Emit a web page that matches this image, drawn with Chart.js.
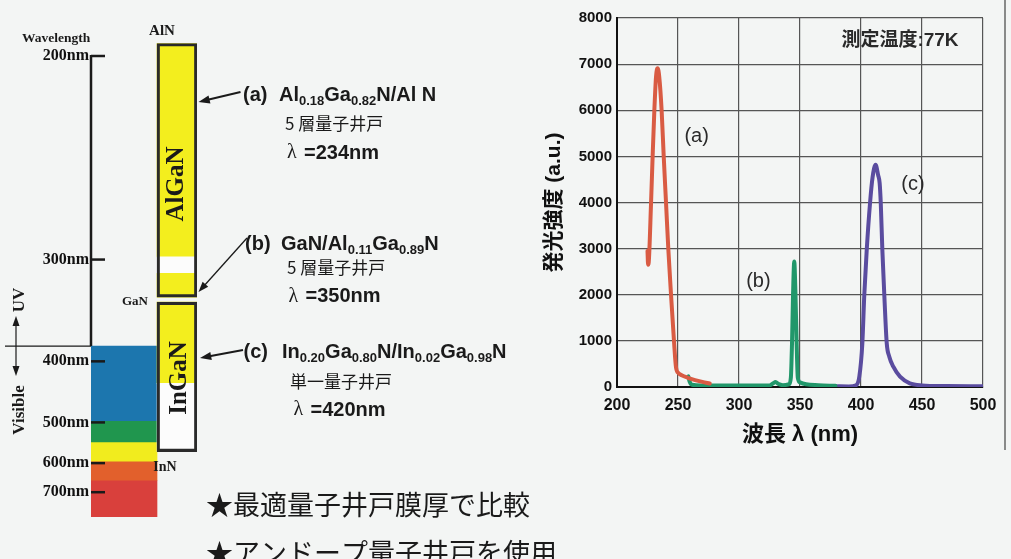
<!DOCTYPE html>
<html>
<head>
<meta charset="utf-8">
<script src="https://cdn.jsdelivr.net/npm/chart.js@4.4.1/dist/chart.umd.min.js"></script>
<style>
html, body { margin: 0; padding: 0; background: #f3f5f4; overflow: hidden; }
#left { position: absolute; left: 0; top: 0; width: 590px; height: 559px; }
#right { position: absolute; left: 540px; top: 0; width: 471px; height: 559px; }
</style>
</head>
<body>
<canvas id="left" width="590" height="559"></canvas>
<canvas id="right" width="471" height="559"></canvas>
<script>
// ---- left diagram: wavelength scale (drawn on an energy axis, E = hc / lambda)
const HC = 1240;
const TICK_NM = [200, 300, 400, 500, 600, 700];
const BAND_NM = [381, 498, 545, 596, 657, 814];      // visible colour blocks
const ALGAN_NM = [196, 298, 310.5, 330.5];           // AlN .. GaN box
const INGAN_NM = [335, 431, 568];                    // GaN .. InN box

// ---- right chart: PL spectra at 77K
const A_NM  = [225.0, 225.5, 226.0, 227.9, 229.2, 230.6, 232.0, 233.3, 234.6, 236.6, 238.3, 240.2, 242.1, 244.3, 246.7, 248.4, 250.5, 253, 258, 264, 270, 276];
const A_INT = [2950, 2650, 2700, 3985, 4996, 5987, 6731, 6913, 6731, 5987, 4996, 3985, 2972, 1995, 1000, 420, 300, 255, 200, 150, 110, 75];
const B_NM  = [258.5, 259.5, 261.5, 270, 290, 310, 325, 328, 330, 332, 336, 341, 342.5, 343.5, 344.3, 345.3, 346.3, 347.2, 348.2, 350, 355, 365, 379];
const B_INT = [230, 120, 50, 35, 30, 30, 35, 80, 110, 70, 40, 60, 200, 1000, 2000, 2720, 2000, 1000, 200, 100, 60, 40, 25];
const C_NM  = [379, 390, 396, 398.6, 401.1, 402.7, 404.7, 407.4, 409.5, 412, 414, 415.3, 416.2, 417.5, 419.1, 421.1, 423.2, 426.5, 432, 440, 450, 470, 500];
const C_INT = [15, 12, 40, 223, 948, 1996, 2972, 3985, 4550, 4816, 4600, 4418, 3985, 2972, 1996, 948, 657, 440, 223, 80, 35, 20, 15];
const X_TICKS = [200, 250, 300, 350, 400, 450, 500];

const ev = nm => HC / nm;
const seg = (edges, x) => edges.slice(1).map((nm, i) => ({ x: x, y: [ev(edges[i]), ev(nm)] }));
const pts = (xs, ys) => xs.map((x, i) => ({ x: x, y: ys[i] }));

const SERIF = '"Liberation Serif", "Times New Roman", serif';
const SANS = '"Liberation Sans", Arial, "Noto Sans CJK JP", sans-serif';
const CJK = '"Noto Sans CJK JP", sans-serif';
const YELLOW = '#f3ee1e';
const SPEC_X = 33, ALLOY_X = 86;

function rotText(ctx, t, x, y, font, color) {
  ctx.save();
  ctx.translate(x, y);
  ctx.rotate(-Math.PI / 2);
  ctx.font = font;
  ctx.fillStyle = color || '#1a1a1a';
  ctx.textAlign = 'center';
  ctx.textBaseline = 'middle';
  ctx.fillText(t, 0, 0);
  ctx.restore();
}

function arrow(ctx, x1, y1, x2, y2, w, head) {
  const a = Math.atan2(y2 - y1, x2 - x1);
  ctx.strokeStyle = '#1a1a1a';
  ctx.fillStyle = '#1a1a1a';
  ctx.lineWidth = w;
  ctx.beginPath();
  ctx.moveTo(x1, y1);
  ctx.lineTo(x2 - Math.cos(a) * head * 0.8, y2 - Math.sin(a) * head * 0.8);
  ctx.stroke();
  ctx.beginPath();
  ctx.moveTo(x2, y2);
  ctx.lineTo(x2 - Math.cos(a - 0.35) * head, y2 - Math.sin(a - 0.35) * head);
  ctx.lineTo(x2 - Math.cos(a + 0.35) * head, y2 - Math.sin(a + 0.35) * head);
  ctx.closePath();
  ctx.fill();
}

// formula with subscripts: parts starting with '_' are subscripts
function formula(ctx, x, y, parts, size) {
  ctx.textAlign = 'left';
  ctx.textBaseline = 'alphabetic';
  ctx.fillStyle = '#1a1a1a';
  for (const p of parts) {
    const sub = p[0] === '_';
    const t = sub ? p.slice(1) : p;
    ctx.font = 'bold ' + (sub ? Math.round(size * 0.64) : size) + 'px ' + SANS;
    ctx.fillText(t, x, sub ? y + size * 0.22 : y);
    x += ctx.measureText(t).width;
  }
}

function lambdaLine(ctx, x, y, nm) {
  ctx.textBaseline = 'middle';
  ctx.textAlign = 'left';
  ctx.fillStyle = '#1a1a1a';
  ctx.font = '20px ' + SERIF;
  ctx.fillText('λ', x, y);
  ctx.font = 'bold 20px ' + SANS;
  ctx.fillText('=' + nm + 'nm', x + 17, y);
}

const leftDeco = {
  id: 'leftDeco',
  afterDraw(chart) {
    const ctx = chart.ctx;
    const ys = chart.scales.y;
    const x0 = chart.chartArea.left;
    const yTop = ys.getPixelForValue(ev(TICK_NM[0]));
    const yVis = ys.getPixelForValue(ev(BAND_NM[0]));
    ctx.save();
    ctx.strokeStyle = '#1a1a1a';
    ctx.lineWidth = 2.5;
    ctx.beginPath();
    ctx.moveTo(x0, yTop - 1);
    ctx.lineTo(x0, yVis);
    ctx.stroke();
    TICK_NM.forEach(nm => {
      const y = ys.getPixelForValue(ev(nm));
      ctx.beginPath();
      ctx.moveTo(x0, y);
      ctx.lineTo(x0 + 14, y);
      ctx.stroke();
    });
    // UV / visible boundary
    ctx.lineWidth = 1.2;
    ctx.beginPath();
    ctx.moveTo(5, yVis);
    ctx.lineTo(x0, yVis);
    ctx.stroke();
    // double arrow
    ctx.lineWidth = 1.2;
    ctx.beginPath();
    ctx.moveTo(16, yVis - 22);
    ctx.lineTo(16, yVis + 22);
    ctx.stroke();
    ctx.fillStyle = '#1a1a1a';
    ctx.beginPath();
    ctx.moveTo(16, yVis - 30); ctx.lineTo(12.5, yVis - 20); ctx.lineTo(19.5, yVis - 20); ctx.closePath(); ctx.fill();
    ctx.beginPath();
    ctx.moveTo(16, yVis + 30); ctx.lineTo(12.5, yVis + 20); ctx.lineTo(19.5, yVis + 20); ctx.closePath(); ctx.fill();

    ctx.fillStyle = '#1a1a1a';
    ctx.textAlign = 'left';
    ctx.textBaseline = 'middle';
    ctx.font = 'bold 13.5px ' + SERIF;
    ctx.fillText('Wavelength', 22, 39);
    ctx.textAlign = 'center';
    ctx.font = 'bold 15px ' + SERIF;
    ctx.fillText('AlN', 162, 31);
    ctx.font = 'bold 13px ' + SERIF;
    ctx.fillText('GaN', 135, 302);
    ctx.font = 'bold 14px ' + SERIF;
    ctx.fillText('InN', 165, 467);
    rotText(ctx, 'AlGaN', 177, 184, 'bold 25px ' + SERIF);
    rotText(ctx, 'InGaN', 180, 378, 'bold 25px ' + SERIF);
    rotText(ctx, 'UV', 20, 300, 'bold 17px ' + SERIF);
    rotText(ctx, 'Visible', 20, 410, 'bold 17px ' + SERIF);

    // annotations (a) (b) (c)
    arrow(ctx, 240.5, 92, 198.5, 102, 2, 12);
    arrow(ctx, 247, 238, 198.5, 292, 1.3, 11);
    arrow(ctx, 243, 350, 200, 358, 2, 12);

    ctx.textAlign = 'left';
    ctx.textBaseline = 'alphabetic';
    ctx.font = 'bold 20px ' + SANS;
    ctx.fillText('(a)', 243, 100.5);
    formula(ctx, 279, 100.5, ['Al', '_0.18', 'Ga', '_0.82', 'N/Al N'], 20);
    ctx.font = 'bold 20px ' + SANS;
    ctx.fillText('(b)', 245, 250);
    formula(ctx, 281, 250, ['GaN/Al', '_0.11', 'Ga', '_0.89', 'N'], 20);
    ctx.font = 'bold 20px ' + SANS;
    ctx.fillText('(c)', 243.5, 357.5);
    formula(ctx, 282, 357.5, ['In', '_0.20', 'Ga', '_0.80', 'N/In', '_0.02', 'Ga', '_0.98', 'N'], 20);

    ctx.textBaseline = 'middle';
    ctx.font = '17px ' + CJK;
    ctx.fillText('5 層量子井戸', 285, 124);
    ctx.fillText('5 層量子井戸', 287, 268);
    ctx.fillText('単一量子井戸', 290, 381.5);
    lambdaLine(ctx, 287, 153, 234);
    lambdaLine(ctx, 288.5, 296.5, 350);
    lambdaLine(ctx, 293.5, 410, 420);

    ctx.font = '27px ' + CJK;
    ctx.fillText('★最適量子井戸膜厚で比較', 206, 505);
    ctx.fillText('★アンドープ量子井戸を使用', 206, 553);
    ctx.restore();
  }
};

new Chart(document.getElementById('left'), {
  type: 'bar',
  data: {
    datasets: [
      { label: 'outline', grouped: false, barThickness: 40, borderSkipped: false,
        data: [{ x: ALLOY_X, y: [ev(ALGAN_NM[0]), ev(ALGAN_NM[ALGAN_NM.length - 1])] },
               { x: ALLOY_X, y: [ev(INGAN_NM[0]), ev(INGAN_NM[INGAN_NM.length - 1])] }],
        backgroundColor: 'rgba(0,0,0,0)', borderColor: '#2a2a2a', borderWidth: 2.5 },
      { label: 'AlGaN', grouped: false, barThickness: 40, data: seg(ALGAN_NM, ALLOY_X),
        backgroundColor: [YELLOW, '#fcfcfc', YELLOW] },
      { label: 'InGaN', grouped: false, barThickness: 40, data: seg(INGAN_NM, ALLOY_X),
        backgroundColor: [YELLOW, '#fcfcfc'] },
      { label: 'visible', grouped: false, barThickness: 66, data: seg(BAND_NM, SPEC_X),
        backgroundColor: ['#1c76ae', '#20964e', '#f1ec1e', '#e2602c', '#d9403c'] }
    ]
  },
  options: {
    responsive: false,
    animation: false,
    devicePixelRatio: 1,
    layout: { padding: { left: 0, right: 393, top: 40, bottom: 39 } },
    plugins: { legend: { display: false }, tooltip: { enabled: false } },
    scales: {
      x: { type: 'linear', display: false, min: 0, max: 106, offset: false },
      y: {
        type: 'linear',
        min: 1.4893,
        max: 6.3624,
        grid: { display: false, drawTicks: false },
        border: { display: false },
        afterBuildTicks: s => { s.ticks = TICK_NM.map(nm => ({ value: ev(nm) })); },
        afterFit: s => { s.width = 91; },
        ticks: {
          callback: v => Math.round(HC / v) + 'nm',
          color: '#111',
          padding: 2,
          font: { family: SERIF, weight: 'bold', size: 16 }
        }
      }
    }
  },
  plugins: [leftDeco]
});

const rightDeco = {
  id: 'rightDeco',
  afterDraw(chart) {
    const ctx = chart.ctx;
    const xs = chart.scales.x, ys = chart.scales.y;
    ctx.save();
    ctx.fillStyle = '#2a2a2a';
    ctx.textAlign = 'center';
    ctx.textBaseline = 'middle';
    ctx.font = 'bold 19px ' + SANS;
    ctx.fillText('測定温度:77K', 360, 41);
    ctx.font = '20px ' + SANS;
    ctx.fillText('(a)', xs.getPixelForValue(265.3), ys.getPixelForValue(5430));
    ctx.fillText('(b)', xs.getPixelForValue(315.9), ys.getPixelForValue(2283));
    ctx.fillText('(c)', xs.getPixelForValue(442.6), ys.getPixelForValue(4382));
    // page edge of the scanned figure
    ctx.strokeStyle = '#666';
    ctx.lineWidth = 1.5;
    ctx.beginPath();
    ctx.moveTo(465, 0);
    ctx.lineTo(465, 450);
    ctx.stroke();
    ctx.restore();
  }
};

new Chart(document.getElementById('right'), {
  type: 'line',
  data: {
    datasets: [
      { label: '(a)', data: pts(A_NM, A_INT), borderColor: '#d95b43' },
      { label: '(b)', data: pts(B_NM, B_INT), borderColor: '#21976a' },
      { label: '(c)', data: pts(C_NM, C_INT), borderColor: '#5a4c9f' }
    ]
  },
  options: {
    responsive: false,
    animation: false,
    devicePixelRatio: 1,
    layout: { padding: { left: 0, right: 28, top: 18, bottom: 100 } },
    elements: {
      point: { radius: 0 },
      line: { borderWidth: 4, cubicInterpolationMode: 'monotone', borderCapStyle: 'round', borderJoinStyle: 'round', fill: false }
    },
    plugins: { legend: { display: false }, tooltip: { enabled: false } },
    scales: {
      x: {
        type: 'linear', min: 200, max: 500,
        afterBuildTicks: s => { s.ticks = X_TICKS.map(v => ({ value: v })); },
        afterFit: s => { s.height = 72; },
        grid: { color: '#555', lineWidth: 1.2, drawTicks: false },
        border: { color: '#111', width: 2 },
        ticks: { color: '#111', padding: 9, callback: v => String(v), font: { family: SANS, weight: 'bold', size: 16 } },
        title: { display: true, text: '波長 λ (nm)', color: '#111', padding: { top: 0, bottom: 11 },
                 font: { family: SANS, weight: 'bold', size: 22 } }
      },
      y: {
        min: 0, max: 8000,
        afterFit: s => { s.width = 77; },
        grid: { color: '#555', lineWidth: 1.2, drawTicks: false },
        border: { color: '#111', width: 2 },
        ticks: { stepSize: 1000, color: '#111', padding: 5, callback: v => String(v),
                 font: { family: SANS, weight: 'bold', size: 15 } },
        title: { display: true, text: '発光強度 (a.u.)', color: '#111', padding: { top: 2, bottom: 0 },
                 font: { family: SANS, weight: 'bold', size: 21 } }
      }
    }
  },
  plugins: [rightDeco]
});
</script>
</body>
</html>
